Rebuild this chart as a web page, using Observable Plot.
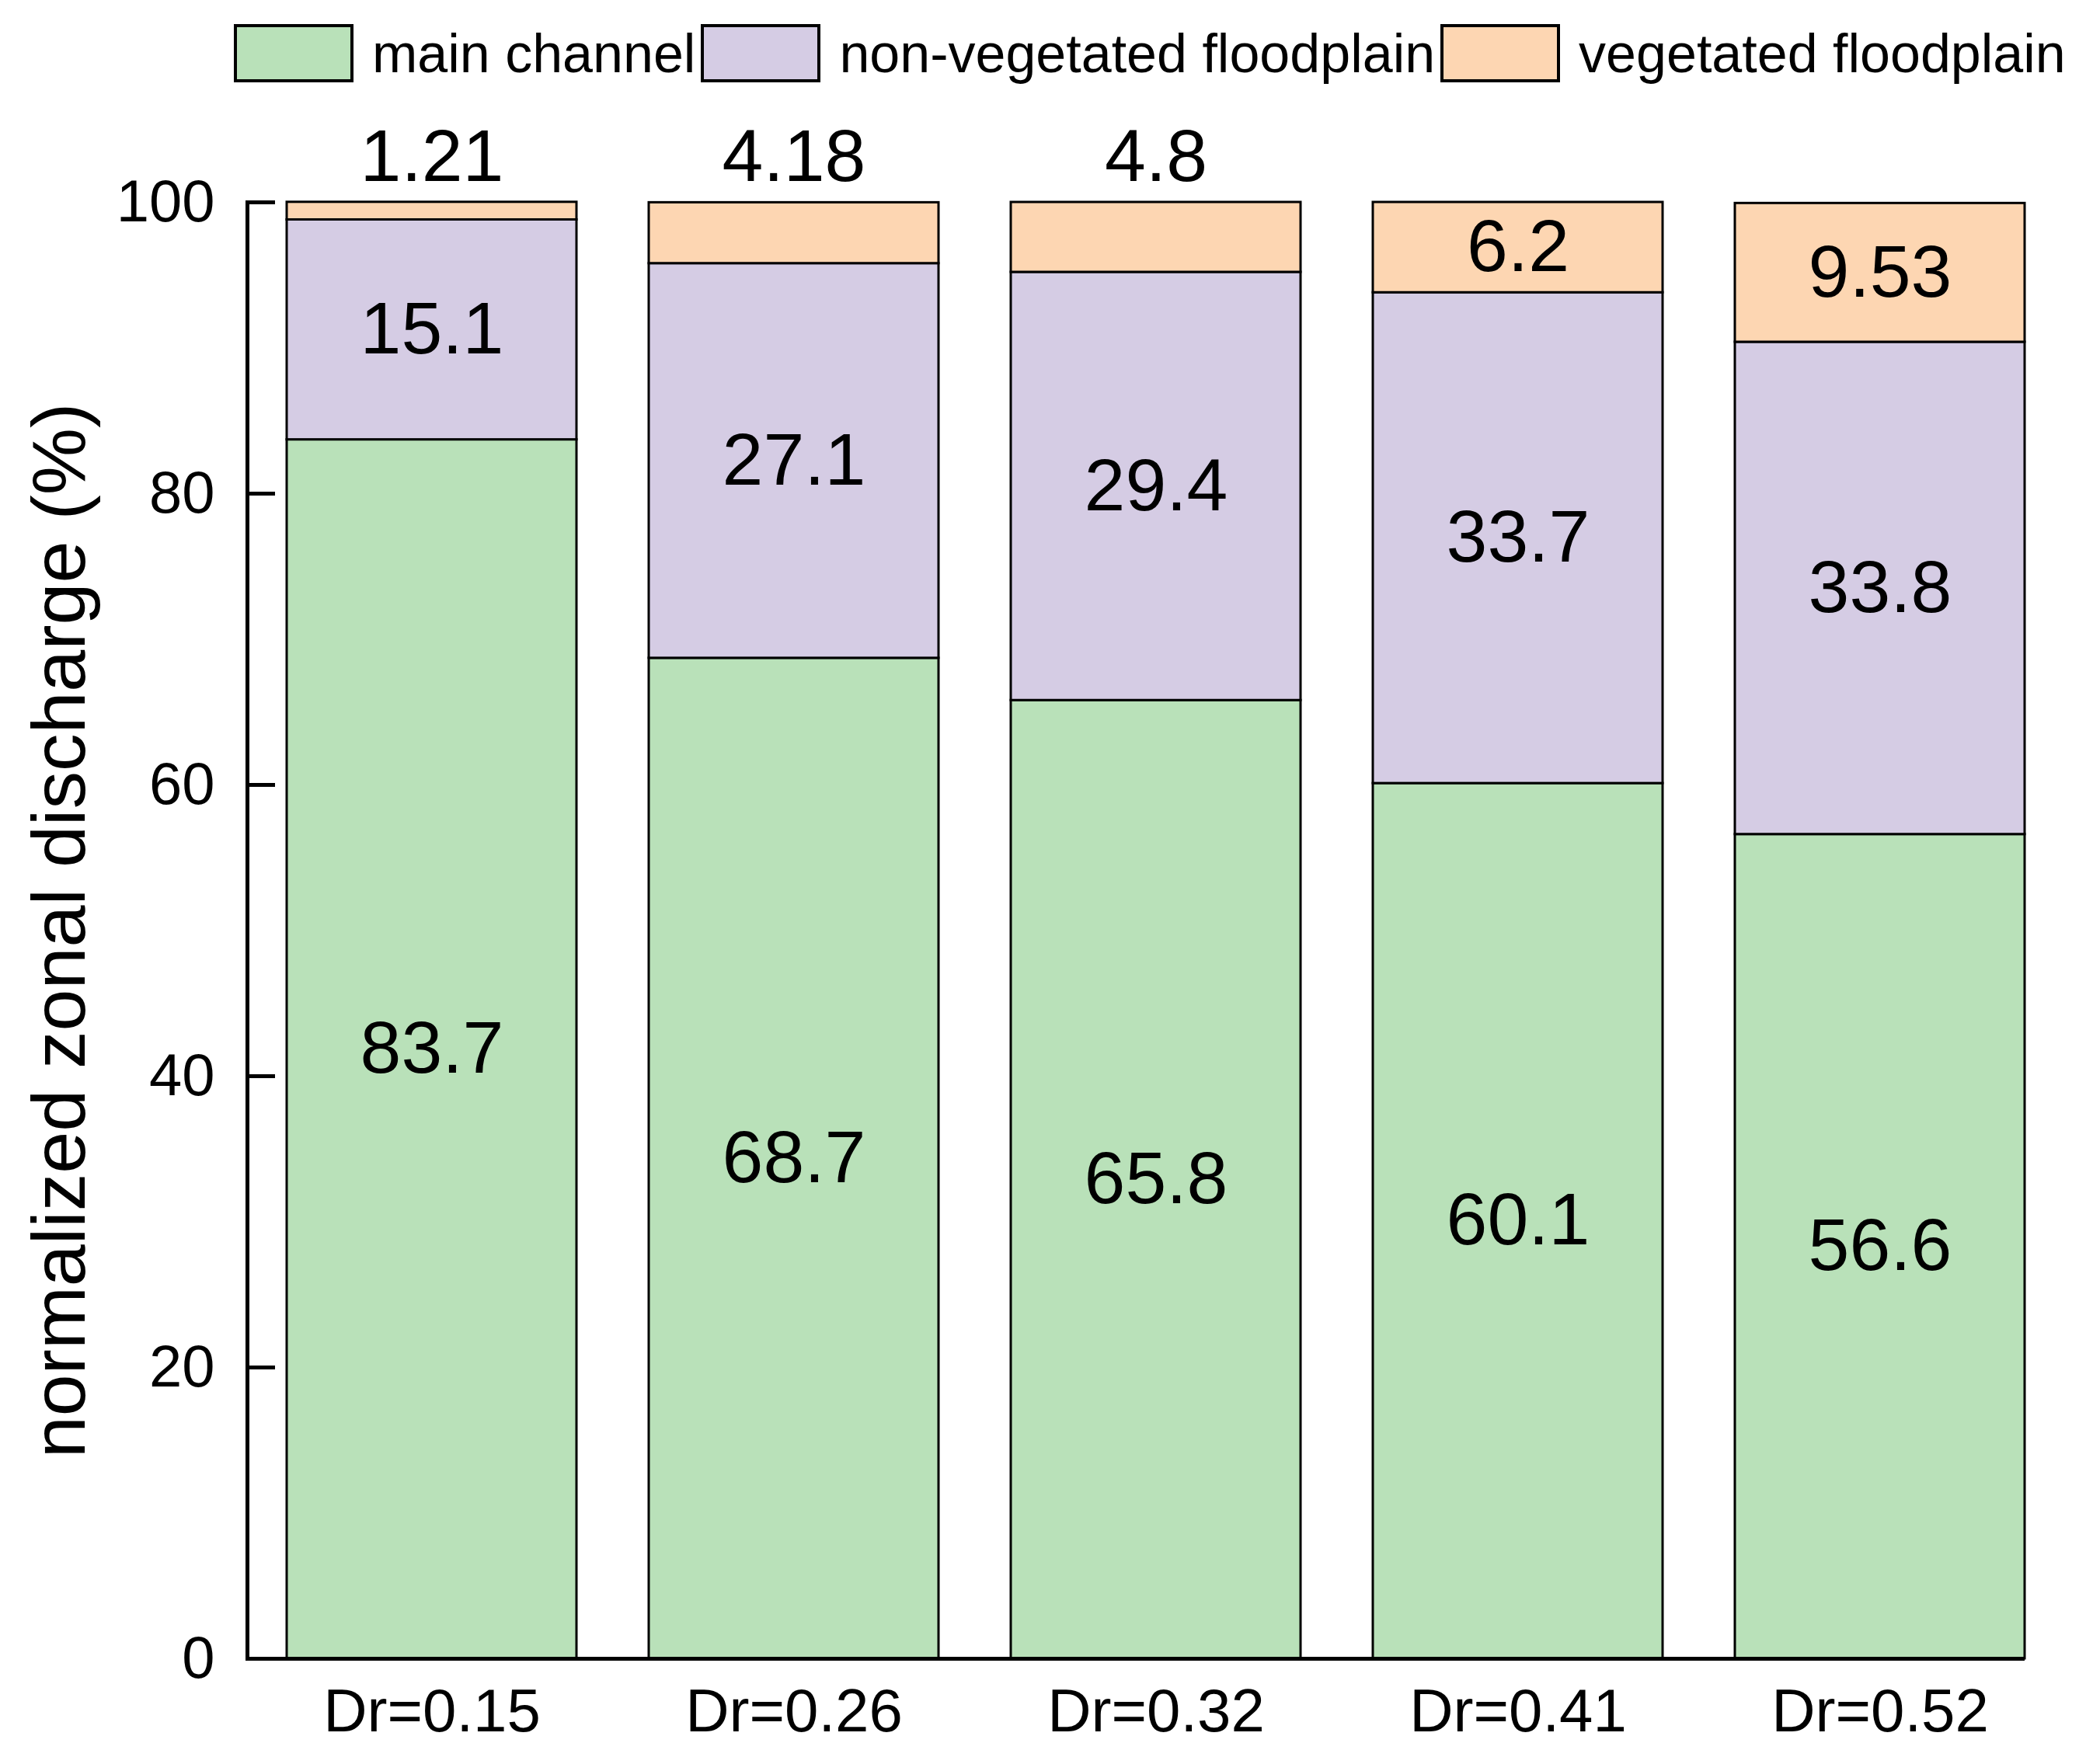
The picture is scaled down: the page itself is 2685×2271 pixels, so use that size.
<!DOCTYPE html>
<html>
<head>
<meta charset="utf-8">
<script src="https://cdn.jsdelivr.net/npm/d3@7"></script>
<script src="https://cdn.jsdelivr.net/npm/@observablehq/plot@0.6"></script>
<style>
  html, body { margin: 0; padding: 0; background: #fff; }
  body { width: 2685px; font-family: "Liberation Sans", Arial, sans-serif; }
  #legend { height: 130px; box-sizing: border-box; padding-top: 31px; padding-left: 301px; display: flex; align-items: flex-start; }
  .item { display: flex; align-items: center; height: 75px; }
  .swatch { width: 154px; height: 75px; box-sizing: border-box; border: 4px solid #000; }
  .lab { font-size: 70px; color: #000; margin-left: 24px; margin-right: 7px; white-space: nowrap; line-height: 1; }
</style>
</head>
<body>
<div id="legend"></div>
<div id="chart"></div>
<script>
const categories = ["Dr=0.15", "Dr=0.26", "Dr=0.32", "Dr=0.41", "Dr=0.52"];
const seriesNames = ["main channel", "non-vegetated floodplain", "vegetated floodplain"];
const mainChannel = [83.7, 68.7, 65.8, 60.1, 56.6];
const nonVegetated = [15.1, 27.1, 29.4, 33.7, 33.8];
const vegetated = [1.21, 4.18, 4.8, 6.2, 9.53];
const seriesColors = ["#b9e1b9", "#d5cce4", "#fdd6b2"];
const yTicks = [0, 20, 40, 60, 80, 100];
const yTitle = "normalized zonal discharge (%)";

const seriesValues = [mainChannel, nonVegetated, vegetated];
const rows = [];
seriesNames.forEach((s, si) => {
  categories.forEach((c, ci) => {
    rows.push({cat: c, series: s, value: seriesValues[si][ci]});
  });
});
// thin top segments get their label above the bar
const isAbove = d => d.series === seriesNames[2] && d.value < 5;

// legend
const legend = document.getElementById("legend");
seriesNames.forEach((s, i) => {
  const item = document.createElement("div");
  item.className = "item";
  const sw = document.createElement("div");
  sw.className = "swatch";
  sw.style.background = seriesColors[i];
  const lab = document.createElement("span");
  lab.className = "lab";
  lab.textContent = s;
  item.appendChild(sw);
  item.appendChild(lab);
  legend.appendChild(item);
});

const chart = Plot.plot({
  width: 2685,
  height: 2141,
  marginTop: 130,
  marginBottom: 136,
  marginLeft: 318,
  marginRight: 79,
  style: {fontFamily: "'Liberation Sans', Arial, sans-serif", background: "#fff", color: "#000", overflow: "visible"},
  x: {domain: categories, paddingInner: 0.2, paddingOuter: 0.05, align: 1, label: null},
  y: {domain: [0, 100], label: null},
  color: {domain: seriesNames, range: seriesColors},
  marks: [
    Plot.barY(rows, {x: "cat", y: "value", fill: "series", stroke: "#000", strokeWidth: 3}),
    Plot.text(rows, Plot.stackY({x: "cat", y: "value", z: "series",
      text: d => isAbove(d) ? "" : String(d.value), fontSize: 95, fill: "#000"})),
    Plot.text(rows.filter(isAbove), {x: "cat", y: () => 100, text: d => String(d.value),
      dy: -58, fontSize: 95, fill: "#000"}),
    Plot.ruleY([0], {strokeWidth: 5, stroke: "#000"}),
    Plot.frame({anchor: "left", strokeWidth: 5, stroke: "#000"}),
    Plot.axisY(yTicks, {tickSize: 36, dx: 36, tickPadding: 42, fontSize: 76, strokeWidth: 5, label: null}),
    Plot.axisX({tickSize: 0, tickPadding: 38, fontSize: 78, label: null}),
    Plot.text([yTitle], {frameAnchor: "left", textAnchor: "middle", lineAnchor: "middle", rotate: -90, dx: -241, fontSize: 97, fill: "#000", text: d => d})
  ]
});
document.getElementById("chart").appendChild(chart);
</script>
</body>
</html>
